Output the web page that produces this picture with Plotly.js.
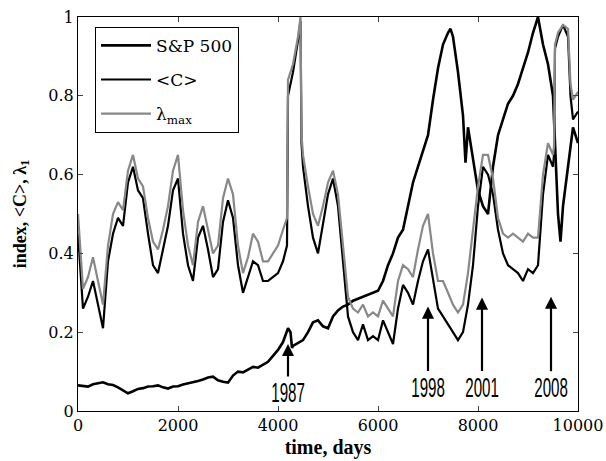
<!DOCTYPE html>
<html>
<head>
<meta charset="utf-8">
<script src="https://cdn.plot.ly/plotly-3.0.1.min.js"></script>
<style>html,body{margin:0;padding:0;background:#fff;}#chart{width:606px;height:461px;}</style>
</head>
<body>
<div id="chart"></div>
<script>
// S&P 500 index (normalised)
var spDays = [0,100,200,300,400,500,600,700,800,900,1000,1100,1200,1300,1400,1500,1600,1700,1800,1900,2000,
  2100,2200,2300,2400,2500,2600,2700,2800,2900,3000,3100,3200,3300,3400,3500,3600,3700,3800,3900,4000,
  4100,4200,4250,4280,4300,4400,4500,4600,4700,4800,4900,5000,5100,5200,5300,5400,5500,5600,5700,5800,5900,6000,
  6100,6200,6300,6400,6500,6600,6700,6800,6900,7000,7100,7200,7300,7400,7450,7500,7600,7700,7750,7800,7900,8000,
  8100,8200,8300,8400,8500,8600,8700,8800,8900,9000,9100,9200,9300,9400,9500,9600,9650,9700,9800,9900,10000];
var spValues = [0.065,0.063,0.062,0.068,0.070,0.073,0.068,0.066,0.060,0.052,0.045,0.050,0.056,0.058,0.062,0.063,0.065,0.060,0.057,0.062,0.063,
  0.067,0.070,0.072,0.076,0.080,0.085,0.087,0.078,0.074,0.072,0.090,0.100,0.098,0.105,0.112,0.110,0.118,0.125,0.140,0.155,
  0.175,0.210,0.200,0.160,0.165,0.172,0.180,0.200,0.225,0.230,0.215,0.210,0.240,0.255,0.265,0.270,0.280,0.285,0.290,0.295,0.300,0.305,
  0.330,0.370,0.400,0.440,0.460,0.520,0.580,0.620,0.660,0.700,0.790,0.870,0.930,0.960,0.970,0.950,0.860,0.750,0.630,0.720,0.640,0.560,
  0.520,0.500,0.620,0.700,0.740,0.780,0.800,0.830,0.870,0.910,0.960,1.000,0.930,0.880,0.800,0.500,0.430,0.520,0.620,0.720,0.680];

// mean correlation <C> and largest eigenvalue lambda_max
var corrDays = [0,100,200,300,400,500,600,700,800,900,1000,1100,1200,1300,1400,1500,1600,1700,1800,1900,2000,
  2100,2200,2300,2400,2500,2600,2700,2800,2900,3000,3100,3200,3300,3400,3500,3600,3700,3800,3900,4000,
  4100,4180,4200,4300,4400,4450,4470,4500,4600,4700,4800,4900,5000,5100,5200,5300,5400,5500,5600,5700,5800,5900,6000,
  6100,6200,6300,6400,6500,6600,6700,6800,6900,7000,7100,7200,7300,7400,7500,7600,7700,7800,7900,8000,
  8100,8200,8300,8400,8500,8600,8700,8800,8900,9000,9100,9200,9300,9400,9500,9520,9540,9600,9700,9800,9850,9900,10000];
var cValues = [0.45,0.26,0.29,0.33,0.27,0.21,0.38,0.45,0.49,0.47,0.58,0.62,0.56,0.54,0.45,0.37,0.35,0.41,0.47,0.56,0.59,
  0.45,0.37,0.33,0.44,0.47,0.41,0.34,0.36,0.48,0.535,0.49,0.37,0.30,0.34,0.38,0.37,0.33,0.33,0.34,0.35,
  0.38,0.42,0.80,0.86,0.94,0.99,0.68,0.62,0.52,0.44,0.40,0.47,0.55,0.59,0.52,0.38,0.24,0.20,0.18,0.22,0.18,0.19,0.18,
  0.23,0.20,0.17,0.26,0.32,0.30,0.27,0.33,0.38,0.41,0.33,0.26,0.24,0.22,0.20,0.18,0.20,0.27,0.37,0.52,
  0.62,0.60,0.55,0.46,0.40,0.37,0.36,0.35,0.33,0.36,0.35,0.37,0.55,0.65,0.62,0.65,0.92,0.95,0.98,0.95,0.80,0.74,0.76];
var lambdaValues = [0.50,0.31,0.34,0.39,0.33,0.27,0.42,0.50,0.53,0.51,0.61,0.65,0.59,0.57,0.49,0.43,0.41,0.46,0.52,0.61,0.65,
  0.51,0.42,0.37,0.48,0.52,0.46,0.40,0.42,0.54,0.59,0.55,0.42,0.35,0.39,0.45,0.43,0.38,0.38,0.40,0.42,
  0.46,0.49,0.84,0.88,0.95,1.00,0.70,0.65,0.57,0.50,0.47,0.52,0.58,0.61,0.55,0.42,0.29,0.26,0.25,0.27,0.24,0.25,0.24,
  0.28,0.26,0.24,0.33,0.37,0.36,0.34,0.41,0.47,0.50,0.40,0.33,0.33,0.30,0.27,0.25,0.27,0.35,0.46,0.57,
  0.65,0.65,0.59,0.49,0.45,0.44,0.45,0.44,0.43,0.45,0.44,0.44,0.60,0.68,0.65,0.67,0.93,0.96,0.98,0.97,0.83,0.79,0.81];

var eventLabels = ['1987','1998','2001','2008'];
var eventDays = [4200,7000,8080,9460];
var eventTips = [0.17,0.265,0.288,0.29];
var eventOffsets = [49,81,90,91];

var xTicks = [0,2000,4000,6000,8000,10000];
var yTicks = [0,0.2,0.4,0.6,0.8,1];
var yTickText = ['0','0.2','0.4','0.6','0.8','1'];

var serif = 'DejaVu Serif';
var titleSerif = 'Liberation Serif';

var traces = [
  {x: spDays, y: spValues, name: 'S&amp;P 500', type: 'scatter', mode: 'lines', legendgroup: 'a',
   line: {color: '#000', width: 2.6}},
  {x: corrDays, y: cValues, name: '&lt;C&gt;', type: 'scatter', mode: 'lines', legendgroup: 'b',
   line: {color: '#000', width: 2.2}},
  {x: corrDays, y: lambdaValues, name: 'λ<sub>max</sub>', type: 'scatter', mode: 'lines', legendgroup: 'c',
   line: {color: '#888888', width: 2.2}}
];

var annotations = eventLabels.map(function (lab, i) {
  return {
    x: eventDays[i], y: eventTips[i], xref: 'x', yref: 'y',
    text: lab, showarrow: true, ax: 0, ay: eventOffsets[i],
    arrowhead: 2, arrowsize: 1.1, arrowwidth: 2.2, arrowcolor: '#000', standoff: 0,
    font: {family: 'Liberation Sans', size: 27, color: '#000'}
  };
});

var layout = {
  width: 606, height: 461,
  margin: {l: 78, r: 28, t: 17, b: 50},
  paper_bgcolor: '#fff', plot_bgcolor: '#fff',
  font: {family: serif, size: 16, color: '#000'},
  showlegend: true,
  legend: {x: 0.034, y: 0.975, xanchor: 'left', yanchor: 'top', bgcolor: '#fff',
           bordercolor: '#000', borderwidth: 1, tracegroupgap: 9, itemwidth: 50,
           font: {family: serif, size: 17, color: '#000'}},
  xaxis: {range: [0, 10000], tickvals: xTicks, ticktext: xTicks.map(String), ticks: 'inside', ticklen: 5,
          showline: true, linecolor: '#000', linewidth: 1, mirror: 'ticks', showgrid: false, zeroline: false,
          tickfont: {family: serif, size: 16, color: '#000'},
          title: {text: '<b>time, days</b>', font: {family: titleSerif, size: 20, color: '#000'}, standoff: 5}},
  yaxis: {range: [0, 1], tickvals: yTicks, ticktext: yTickText, ticks: 'inside', ticklen: 5,
          showline: true, linecolor: '#000', linewidth: 1, mirror: 'ticks', showgrid: false, zeroline: false,
          tickfont: {family: serif, size: 16, color: '#000'},
          title: {text: '<b>index, &lt;C&gt;, λ<sub>1</sub></b>', font: {family: titleSerif, size: 18, color: '#000'}, standoff: 17}},
  annotations: annotations
};

Plotly.newPlot('chart', traces, layout, {staticPlot: true, displayModeBar: false}).then(function (gd) {
  // condense the event labels horizontally, as in the original figure
  gd.querySelectorAll('.annotation-text').forEach(function (t) {
    var bb = t.getBBox();
    var cx = bb.x + bb.width / 2;
    t.setAttribute('transform', 'translate(' + cx + ',0) scale(0.56,1) translate(' + (-cx) + ',0)');
  });
});
</script>
</body>
</html>
